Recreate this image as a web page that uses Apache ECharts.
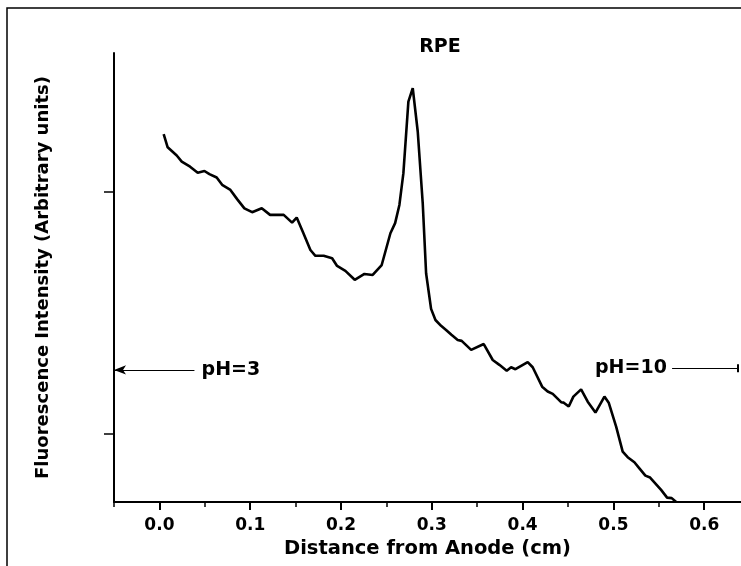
<!DOCTYPE html>
<html>
<head>
<meta charset="utf-8">
<script src="https://cdn.jsdelivr.net/npm/echarts@6/dist/echarts.min.js"></script>
<style>
html,body{margin:0;padding:0;background:#fff;}
#chart{width:741px;height:566px;}
</style>
</head>
<body>
<div id="chart"></div>
<script>
// Distance from anode (cm)
var distance = [0.0047,0.0091,0.0191,0.0246,0.0338,0.0422,0.0496,0.0551,0.0631,0.0691,0.0782,0.0856,0.0936,0.1021,0.1127,0.1219,0.1369,0.1461,0.1512,0.1586,0.1663,0.1718,0.1809,0.1902,0.1957,0.2048,0.2151,0.2258,0.2349,0.2448,0.2544,0.2596,0.2643,0.2687,0.2742,0.2790,0.2845,0.2900,0.2937,0.2992,0.3040,0.3102,0.3157,0.3216,0.3285,0.3329,0.3433,0.3572,0.3671,0.3744,0.3825,0.3873,0.3921,0.4056,0.4111,0.4215,0.4276,0.4332,0.4424,0.4453,0.4508,0.4559,0.4644,0.4717,0.4802,0.4901,0.4948,0.5030,0.5102,0.5157,0.5231,0.5286,0.5352,0.5404,0.5525,0.5591,0.5642,0.5691];
// Fluorescence intensity (arbitrary units)
var intensity = [223.7,218.3,214.9,212.4,210.3,207.8,208.5,207.2,205.8,202.8,200.7,196.9,193.1,191.5,193.1,190.4,190.4,187.2,189.3,182.8,175.9,173.5,173.5,172.5,169.3,167.3,163.6,166.0,165.6,169.7,182.8,187.0,194.5,207.6,237.1,242.7,224.8,195.2,166.3,151.6,147.0,144.6,142.9,140.9,138.8,138.4,134.7,137.1,130.5,128.5,126.1,127.5,126.7,129.6,127.5,119.5,117.5,116.5,113.1,112.9,111.3,115.4,118.4,113.3,108.8,115.4,112.9,103.0,92.7,90.4,88.3,85.8,82.8,82.0,76.9,73.7,73.5,71.9];

var xMajorTicks = [0.0,0.1,0.2,0.3,0.4,0.5,0.6];
var xMinorTicks = [-0.05,0.05,0.15,0.25,0.35,0.45,0.55];
var yTicks = [100,200];

var titleText = 'RPE';
var xTitle = 'Distance from Anode (cm)';
var yTitle = 'Fluorescence Intensity (Arbitrary units)';

// annotation labels: [x, y, text]
var phLabels = [[0.0787,126.4,'pH=3'],[0.5193,127.0,'pH=10']];
// arrow pH=3: from text towards axis
var ph3Arrow = [[0.0386,126.4],[-0.05,126.4]];
// pH=10 line with end bar
var ph10Line = [[0.5646,127.1],[0.6372,127.1]];

var xMin = -0.05, xMax = 0.6405;
var yMin = 71.9, yMax = 257.2;

var FONT = 'DejaVu Sans';

var chart = echarts.init(document.getElementById('chart'), null, {renderer:'canvas'});

var lineData = distance.map(function(d,i){return [d,intensity[i]];});

var option = {
  backgroundColor:'#fff',
  animation:false,
  grid:{left:114, top:53, right:0, bottom:64, containLabel:false},
  xAxis:[{
    type:'value', min:xMin, max:xMax, position:'bottom',
    axisLine:{show:true, onZero:false, lineStyle:{color:'#000', width:2}},
    axisTick:{show:true, customValues:xMajorTicks, length:8, inside:false, lineStyle:{color:'#000', width:2}},
    axisLabel:{show:true, customValues:xMajorTicks, margin:15, color:'#000', fontFamily:FONT, fontWeight:'bold', fontSize:17,
      formatter:function(v){return v.toFixed(1);}},
    splitLine:{show:false},
    name:xTitle, nameLocation:'middle', nameGap:33,
    nameTextStyle:{color:'#000', fontFamily:FONT, fontWeight:'bold', fontSize:19.5}
  },{
    type:'value', min:xMin, max:xMax, position:'bottom',
    axisLine:{show:false},
    axisTick:{show:true, customValues:xMinorTicks, length:5, lineStyle:{color:'#000', width:1.5}},
    axisLabel:{show:false},
    splitLine:{show:false}
  }],
  yAxis:{
    type:'value', min:yMin, max:yMax,
    axisLine:{show:true, onZero:false, lineStyle:{color:'#000', width:2}},
    axisTick:{show:true, customValues:yTicks, length:10, lineStyle:{color:'#000', width:1.5}},
    axisLabel:{show:false},
    splitLine:{show:false},
    name:yTitle, nameLocation:'middle', nameGap:62,
    nameTextStyle:{color:'#000', fontFamily:FONT, fontWeight:'bold', fontSize:18}
  },
  graphic:[
    {type:'polyline', shape:{points:[[7,600],[7,8],[800,8]]}, style:{fill:'none', stroke:'#000', lineWidth:1.5}, silent:true},
    {type:'text', x:440, y:47, style:{text:titleText, fill:'#000', font:'bold 19px "DejaVu Sans"', textAlign:'center', textVerticalAlign:'middle'}}
  ],
  series:[{
    type:'line', data:lineData, symbol:'none', smooth:false, clip:true,
    lineStyle:{color:'#000', width:2.6}, xAxisIndex:0, yAxisIndex:0
  },{
    type:'scatter', xAxisIndex:0, yAxisIndex:0, symbolSize:0,
    itemStyle:{opacity:1, color:'#000'},
    data:phLabels.map(function(p){return [p[0],p[1],p[2]];}),
    label:{show:true, position:'inside', formatter:function(p){return p.value[2];},
      color:'#000', opacity:1, fontFamily:FONT, fontWeight:'bold', fontSize:19},
    markLine:{
      silent:true, animation:false,
      label:{show:false},
      lineStyle:{color:'#000', width:1, type:'solid', opacity:1},
      data:[
        [{coord:ph3Arrow[0], symbol:'none'},{coord:ph3Arrow[1], symbol:'arrow', symbolSize:[7,12]}],
        [{coord:ph10Line[0], symbol:'none'},{coord:ph10Line[1], symbol:'rect', symbolSize:[8,2]}]
      ]
    }
  }]
};
chart.setOption(option);
</script>
</body>
</html>
